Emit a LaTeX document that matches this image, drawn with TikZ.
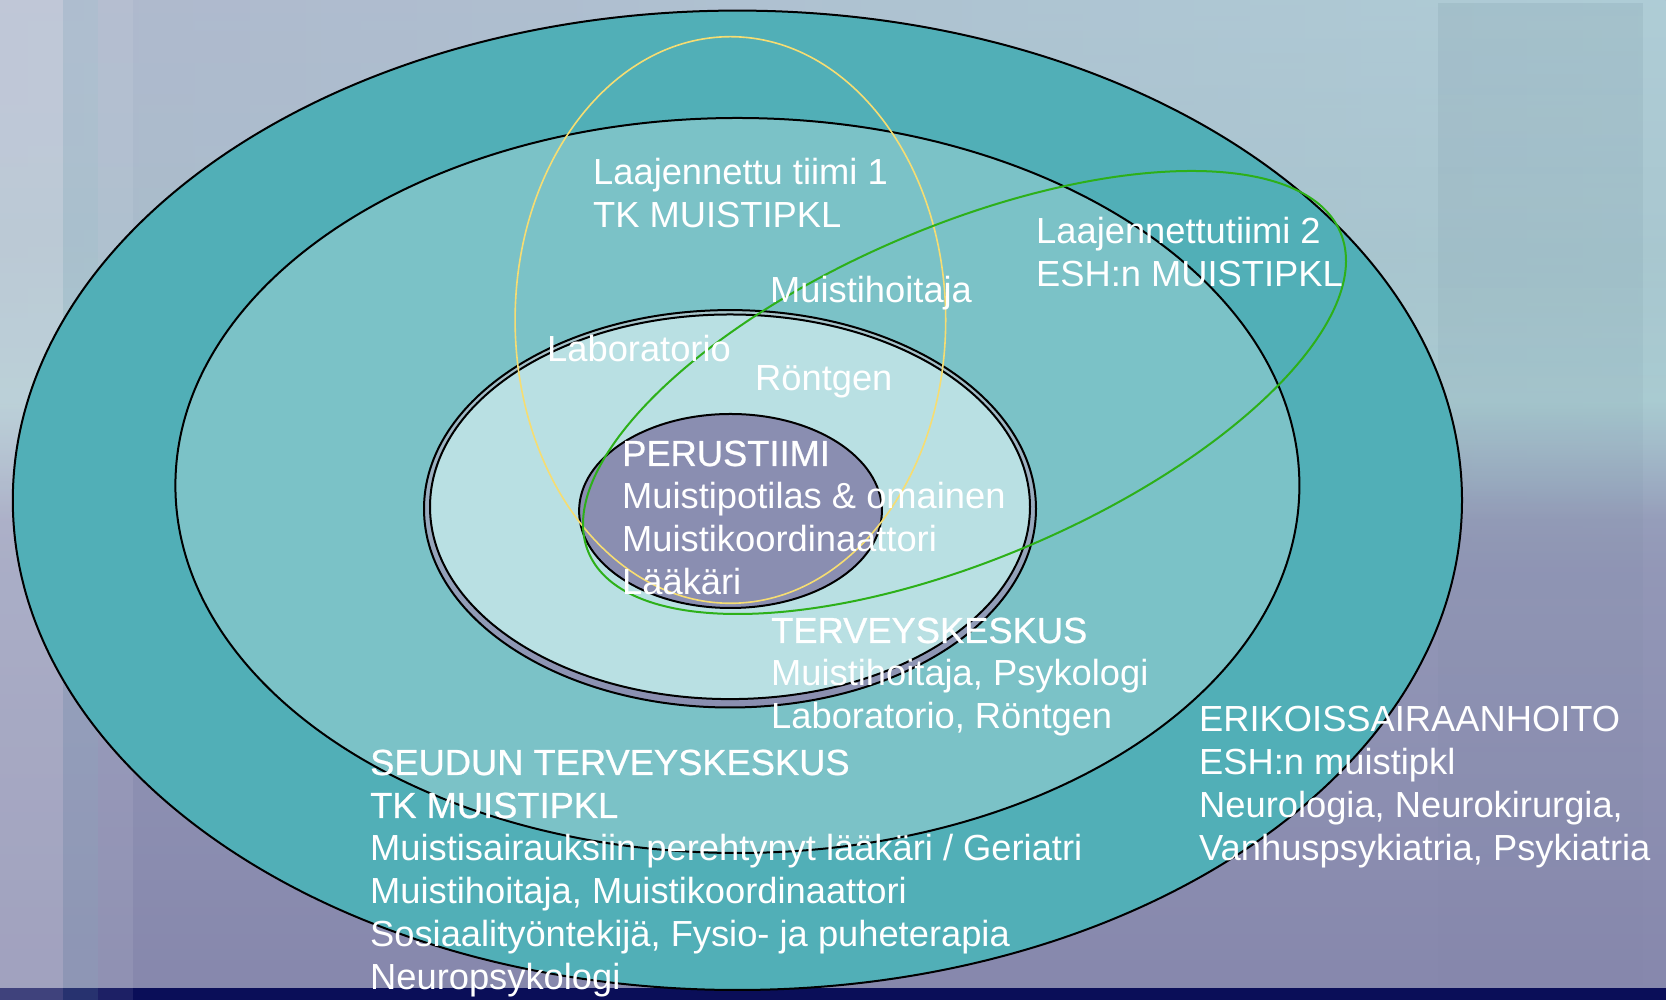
\documentclass[tikz,border=0pt]{standalone}
\usepackage{fontspec}
\setmainfont{Liberation Sans}
\newfontfamily\headfont{Liberation Sans}[FakeBold=0.7]
\usetikzlibrary{fadings}
\definecolor{ringA}{HTML}{51AFB7}
\definecolor{ringB}{HTML}{7BC2C7}
\definecolor{ringC}{HTML}{B9E0E3}
\definecolor{coreC}{HTML}{8A8EB1}
\definecolor{bandTop}{HTML}{A8C7CC}
\definecolor{bandBot}{HTML}{8A8EB0}
\definecolor{yellowL}{HTML}{F6DD72}
\definecolor{greenL}{HTML}{2DB019}
\definecolor{navyB}{HTML}{0A0E58}
\definecolor{bgA}{HTML}{AFB8CD}
\definecolor{bgB}{HTML}{A5BEC9}
\definecolor{bgC}{HTML}{A8C8CF}
\definecolor{bgD}{HTML}{9499B8}
\definecolor{bgE}{HTML}{8687AC}
\definecolor{cyanTint}{HTML}{AED6DA}
\pgfdeclareverticalshading{bgshade}{100bp}{color(0bp)=(bgE); color(25bp)=(bgE); color(49bp)=(bgD); color(55bp)=(bgC); color(62.5bp)=(bgB); color(75bp)=(bgA); color(100bp)=(bgA)}
\newcommand\txtblock[1]{\parbox[t]{1000pt}{\raggedright #1}}
\tikzset{
  ringline/.style={draw=black, line width=2pt},
  lbl/.style={anchor=base west, inner sep=0pt, text=white, font=\fontsize{36.3}{43}\selectfont},
}
\begin{document}
\begin{tikzpicture}[x=1pt,y=1pt]
\useasboundingbox (0,0) rectangle (1666,1000);
% background
\shade[shading=bgshade] (0,0) rectangle (1666,1000);
\shade[left color=bgA, right color=cyanTint, fill opacity=0.7, path fading=south] (0,1000) rectangle (1666,420);
\fill[navyB] (0,0) rectangle (1666,12);
\fill[white, opacity=0.22] (0,0) rectangle (63,1000);
\fill[cyanTint, opacity=0.18] (63,0) rectangle (98,1000);
\fill[white, opacity=0.08] (98,0) rectangle (133,1000);
\fill[black!60!cyan, opacity=0.1, path fading=south] (1438,0) rectangle (1643,1000);
% rings
\draw[ringline, fill=ringA] (737.4,499.7) ellipse [x radius=724.6, y radius=489.7];
\draw[ringline, fill=ringB] (737.4,514.5) ellipse [x radius=562, y radius=367.5];
\shade[top color=bandTop, bottom color=bandBot] (730,491.2) ellipse [x radius=306, y radius=198.7];
\draw[ringline] (730,491.2) ellipse [x radius=306, y radius=198.7];
\draw[ringline, fill=ringC] (730,493.2) ellipse [x radius=300, y radius=192.3];
\draw[ringline, fill=coreC] (730.5,489) ellipse [x radius=151.4, y radius=97];
% team ellipses
\draw[yellowL, line width=1.6pt] (730.4,680) ellipse [x radius=215.3, y radius=283.3];
\draw[greenL, line width=2pt, rotate around={23.1:(964.5,607.5)}] (964.5,607.5) ellipse [x radius=408.6, y radius=166.2];
% labels
\node[lbl] (team1) at (593,815) {\txtblock{Laajennettu tiimi 1\\TK MUISTIPKL}};
\node[lbl] (team2) at (1036,756) {\txtblock{Laajennettutiimi 2\\ESH:n MUISTIPKL}};
\node[lbl] (mh) at (770,697) {Muistihoitaja};
\node[lbl] (lab) at (547,638) {Laboratorio};
\node[lbl] (ront) at (755,609) {Röntgen};
\node[lbl] (perus) at (622,534) {\txtblock{{\headfont PERUSTIIMI}\\Muistipotilas \& omainen\\Muistikoordinaattori\\Lääkäri}};
\node[lbl] (terv) at (771,357) {\txtblock{{\headfont TERVEYSKESKUS}\\Muistihoitaja, Psykologi\\Laboratorio, Röntgen}};
\node[lbl] (seud) at (370,225) {\txtblock{{\headfont SEUDUN TERVEYSKESKUS}\\{\headfont TK MUISTIPKL}\\Muistisairauksiin perehtynyt lääkäri / Geriatri\\Muistihoitaja, Muistikoordinaattori\\Sosiaalityöntekijä, Fysio- ja puheterapia\\Neuropsykologi}};
\node[lbl] (erik) at (1199,268) {\txtblock{ERIKOISSAIRAANHOITO\\ESH:n muistipkl\\Neurologia, Neurokirurgia,\\Vanhuspsykiatria, Psykiatria}};
\end{tikzpicture}
\end{document}
